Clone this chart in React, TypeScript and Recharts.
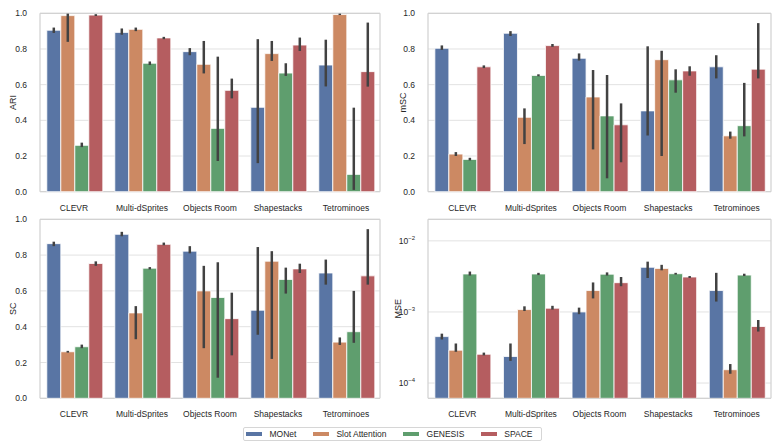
import React from 'react'
import { Bar, BarChart, CartesianGrid, ErrorBar, XAxis, YAxis } from 'recharts'

const categories = ['CLEVR', 'Multi-dSprites', 'Objects Room', 'Shapestacks', 'Tetrominoes']
const models = ['MONet', 'Slot Attention', 'GENESIS', 'SPACE']

// rows = models, columns = categories
const ariMean = [
  [0.905, 0.893, 0.785, 0.473, 0.71],
  [0.987, 0.91, 0.714, 0.774, 0.993],
  [0.26, 0.72, 0.355, 0.665, 0.097],
  [0.99, 0.862, 0.568, 0.822, 0.673],
]
const ariLow = [
  [0.89, 0.88, 0.765, 0.16, 0.59],
  [0.84, 0.9, 0.663, 0.733, 0.99],
  [0.25, 0.71, 0.172, 0.649, 0.01],
  [0.985, 0.855, 0.523, 0.789, 0.589],
]
const ariHigh = [
  [0.92, 0.915, 0.805, 0.855, 0.852],
  [0.998, 0.92, 0.845, 0.845, 0.998],
  [0.275, 0.73, 0.757, 0.72, 0.471],
  [0.995, 0.868, 0.634, 0.864, 0.948],
]

const mscMean = [
  [0.804, 0.888, 0.748, 0.453, 0.7],
  [0.211, 0.417, 0.531, 0.74, 0.313],
  [0.181, 0.652, 0.425, 0.627, 0.37],
  [0.7, 0.819, 0.375, 0.677, 0.687],
]
const mscLow = [
  [0.795, 0.873, 0.735, 0.315, 0.635],
  [0.2, 0.267, 0.237, 0.2, 0.297],
  [0.175, 0.647, 0.075, 0.555, 0.31],
  [0.693, 0.812, 0.165, 0.65, 0.635],
]
const mscHigh = [
  [0.82, 0.9, 0.775, 0.815, 0.765],
  [0.222, 0.467, 0.682, 0.79, 0.337],
  [0.19, 0.658, 0.654, 0.686, 0.61],
  [0.708, 0.828, 0.495, 0.703, 0.945],
]

const scMean = [
  [0.864, 0.916, 0.822, 0.492, 0.7],
  [0.26, 0.477, 0.6, 0.766, 0.314],
  [0.288, 0.727, 0.563, 0.664, 0.372],
  [0.753, 0.86, 0.445, 0.723, 0.684],
]
const scLow = [
  [0.85, 0.905, 0.81, 0.355, 0.635],
  [0.255, 0.33, 0.28, 0.22, 0.298],
  [0.28, 0.72, 0.115, 0.585, 0.31],
  [0.74, 0.855, 0.24, 0.7, 0.635],
]
const scHigh = [
  [0.875, 0.93, 0.85, 0.845, 0.775],
  [0.265, 0.515, 0.74, 0.822, 0.34],
  [0.3, 0.733, 0.76, 0.73, 0.6],
  [0.765, 0.87, 0.59, 0.752, 0.945],
]

const mseMean = [
  [4.5e-4, 2.36e-4, 1.0e-3, 4.25e-3, 2.0e-3],
  [2.9e-4, 1.08e-3, 2.0e-3, 4.1e-3, 1.54e-4],
  [3.42e-3, 3.42e-3, 3.4e-3, 3.45e-3, 3.3e-3],
  [2.54e-4, 1.13e-3, 2.58e-3, 3.1e-3, 6.24e-4],
]
const mseLow = [
  [4.1e-4, 2.05e-4, 0.93e-3, 3.0e-3, 1.4e-3],
  [2.75e-4, 1.03e-3, 1.55e-3, 3.85e-3, 1.35e-4],
  [3.25e-3, 3.3e-3, 3.25e-3, 3.35e-3, 3.2e-3],
  [2.45e-4, 1.08e-3, 2.3e-3, 3.0e-3, 5.3e-4],
]
const mseHigh = [
  [4.95e-4, 3.6e-4, 1.15e-3, 5.1e-3, 3.55e-3],
  [3.6e-4, 1.2e-3, 2.6e-3, 4.6e-3, 1.85e-4],
  [3.7e-3, 3.55e-3, 3.6e-3, 3.55e-3, 3.45e-3],
  [2.68e-4, 1.22e-3, 3.1e-3, 3.2e-3, 7.7e-4],
]

const linearTicks = [0, 0.2, 0.4, 0.6, 0.8, 1.0]
const logTicks = [1e-4, 1e-3, 1e-2]

const palette = ['#5975a4', '#cc8963', '#5f9e6e', '#b55d60']
const FONT = '"Liberation Sans", Arial, Helvetica, sans-serif'
const TEXT = '#262626'

function buildRows(mean: number[][], low: number[][], high: number[][]) {
  return categories.map((name, i) => {
    const row: any = { name }
    models.forEach((_, m) => {
      row[`v${m}`] = mean[m][i]
      row[`e${m}`] = [mean[m][i] - low[m][i], high[m][i] - mean[m][i]]
    })
    return row
  })
}

function LogTick({ x, y, payload }: any) {
  const exp = Math.round(Math.log10(payload.value))
  return (
    <text x={x} y={y} textAnchor="end" fill={TEXT} fontSize={8.5} fontFamily={FONT}>
      <tspan dy="0.355em">10</tspan>
      <tspan dy={-4} fontSize={6}>{'\u2212' + Math.abs(exp)}</tspan>
    </text>
  )
}

function yLabel(p: any, text: string, labelX: number) {
  const vb = p.viewBox || {}
  const cx = labelX
  const cy = (vb.y ?? 0) + (vb.height ?? 0) / 2
  return (
    <text
      x={cx}
      y={cy}
      transform={`rotate(-90 ${cx} ${cy})`}
      textAnchor="middle"
      dy="0.355em"
      fill={TEXT}
      fontSize={9}
      fontFamily={FONT}
    >
      {text}
    </text>
  )
}

function Panel({ rows, label, left, top, margin, axisWidth, xAxisHeight, labelX, log }: any) {
  const width = left === 0 ? 390 : 391
  return (
    <div style={{ position: 'absolute', left, top }}>
      <BarChart width={width} height={215} data={rows} margin={margin} barCategoryGap="10%" barGap={0}>
        <CartesianGrid vertical={false} stroke="#e2e2e2" />
        <CartesianGrid
          fill="none"
          stroke="#d2d2d2"
          strokeWidth={1.25}
          horizontalCoordinatesGenerator={({ offset }: any) => [offset.top, offset.top + offset.height]}
          verticalCoordinatesGenerator={({ offset }: any) => [offset.left, offset.left + offset.width]}
        />
        <XAxis
          dataKey="name"
          axisLine={false}
          tickLine={false}
          tickMargin={7}
          height={xAxisHeight}
          interval={0}
          tick={{ fontSize: 8.5, fill: TEXT, fontFamily: FONT }}
        />
        {log ? (
          <YAxis
            type="number"
            scale="log"
            domain={[6.1e-5, 0.0201]}
            allowDataOverflow
            ticks={logTicks}
            width={axisWidth}
            axisLine={false}
            tickLine={false}
            tickMargin={7}
            tick={<LogTick />}
            label={{ content: (p: any) => yLabel(p, label, labelX) }}
          />
        ) : (
          <YAxis
            type="number"
            domain={[0, 1]}
            ticks={linearTicks}
            width={axisWidth}
            axisLine={false}
            tickLine={false}
            tickMargin={7}
            tickFormatter={(v: number) => v.toFixed(1)}
            tick={{ fontSize: 8.5, fill: TEXT, fontFamily: FONT }}
            label={{ content: (p: any) => yLabel(p, label, labelX) }}
          />
        )}
        {models.map((m, i) => (
          <Bar
            key={m}
            dataKey={`v${i}`}
            name={m}
            fill={palette[i]}
            stroke="#ffffff"
            strokeWidth={0.8}
            isAnimationActive={false}
          >
            <ErrorBar dataKey={`e${i}`} width={0} stroke="#424242" strokeWidth={2.5} direction="y" isAnimationActive={false} />
          </Bar>
        ))}
      </BarChart>
    </div>
  )
}

function LegendBox() {
  return (
    <div
      style={{
        position: 'absolute',
        left: 243,
        top: 427,
        width: 295,
        height: 12,
        border: '1px solid #d6d6d6',
        borderRadius: 2,
        display: 'flex',
        alignItems: 'center',
        paddingLeft: 2,
        fontFamily: FONT,
        fontSize: 8.5,
        color: TEXT,
        background: '#fff',
        boxSizing: 'content-box',
      }}
    >
      {models.map((m, i) => (
        <div key={m} style={{ display: 'flex', alignItems: 'center', marginRight: 16.5 }}>
          <span style={{ display: 'inline-block', width: 16, height: 3.5, background: palette[i], marginRight: 7.5 }} />
          <span style={{ whiteSpace: 'nowrap' }}>{m}</span>
        </div>
      ))}
    </div>
  )
}

export default function App() {
  const ari = buildRows(ariMean, ariLow, ariHigh)
  const msc = buildRows(mscMean, mscLow, mscHigh)
  const sc = buildRows(scMean, scLow, scHigh)
  const mse = buildRows(mseMean, mseLow, mseHigh)
  return (
    <div style={{ position: 'absolute', left: 0, top: 0, width: 781, height: 446, background: '#fff', overflow: 'hidden' }}>
      <Panel rows={ari} label="ARI" left={0} top={0} margin={{ top: 13.3, right: 10, left: 0, bottom: 0 }} axisWidth={40} xAxisHeight={23.3} labelX={12.5} />
      <Panel rows={msc} label="mSC" left={390} top={0} margin={{ top: 13.3, right: 10, left: 0, bottom: 0 }} axisWidth={38} xAxisHeight={23.3} labelX={12.5} />
      <Panel rows={sc} label="SC" left={0} top={210} margin={{ top: 9.3, right: 10, left: 0, bottom: 0 }} axisWidth={40} xAxisHeight={26.7} labelX={13} />
      <Panel rows={mse} label="MSE" left={390} top={210} margin={{ top: 9.3, right: 10, left: 0, bottom: 0 }} axisWidth={38} xAxisHeight={26.7} labelX={7.5} log />
      <LegendBox />
    </div>
  )
}
